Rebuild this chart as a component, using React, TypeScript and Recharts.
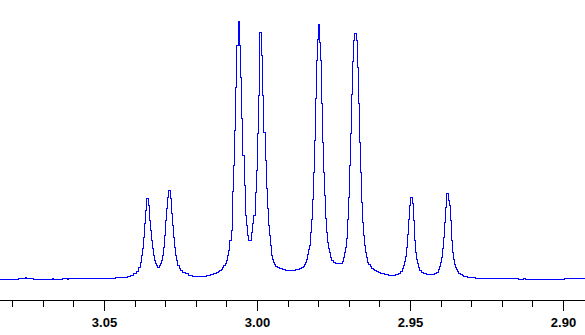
import { LineChart, Line, XAxis, YAxis } from 'recharts';

// chemical shift (ppm) of each step of the trace
const shifts = [
  // flat baseline, left
  3.0840, 3.0781, 3.0758, 3.0755, 3.0732, 3.0670, 3.0667, 3.0637, 3.0621, 3.0618, 3.0464, 3.0425, 3.0415,
  // first small line
  3.0404, 3.0396, 3.0388, 3.0382, 3.0378, 3.0375, 3.0372, 3.0368, 3.0365, 3.0362,
  3.0357, 3.0354, 3.0351, 3.0348, 3.0344, 3.0341, 3.0338, 3.0334, 3.0331, 3.0328,
  // second small line
  3.0319, 3.0316, 3.0313, 3.0310, 3.0306, 3.0303, 3.0300, 3.0297, 3.0293, 3.0290,
  3.0284, 3.0281, 3.0278, 3.0275, 3.0271, 3.0268, 3.0265, 3.0261, 3.0256, 3.0252, 3.0245, 3.0235, 3.0225, 3.0214,
  // valley
  3.0167, 3.0154, 3.0144, 3.0134, 3.0128, 3.0123, 3.0119, 3.0115, 3.0110, 3.0105,
  // big pair, left
  3.0101, 3.0098, 3.0094, 3.0091, 3.0086, 3.0083, 3.0081, 3.0078, 3.0075, 3.0071, 3.0068, 3.0063,
  3.0058, 3.0055, 3.0051, 3.0048, 3.0044, 3.0040, 3.0037, 3.0034, 3.0031, 3.0029,
  3.0019, 3.0015, 3.0012, 3.0008, 3.0004, 3.0001, 2.9997, 2.9995, 2.9993,
  2.9986, 2.9983, 2.9980, 2.9975, 2.9972, 2.9968, 2.9965, 2.9962, 2.9959, 2.9955,
  // valley
  2.9952, 2.9949, 2.9945, 2.9940, 2.9935, 2.9928, 2.9918, 2.9909, 2.9876, 2.9863, 2.9856, 2.9850, 2.9845, 2.9843,
  // big pair, right
  2.9840, 2.9837, 2.9833, 2.9830, 2.9827, 2.9825, 2.9821, 2.9818, 2.9815, 2.9812, 2.9807, 2.9804, 2.9801,
  2.9797, 2.9793, 2.9790, 2.9787, 2.9783, 2.9780, 2.9777, 2.9774, 2.9770, 2.9767, 2.9764, 2.9761, 2.9757, 2.9753, 2.9746,
  2.9721, 2.9718, 2.9715, 2.9712, 2.9708, 2.9705, 2.9702, 2.9698, 2.9695, 2.9692, 2.9689, 2.9685, 2.9682,
  2.9677, 2.9673, 2.9670, 2.9667, 2.9664, 2.9660, 2.9657, 2.9654, 2.9650, 2.9647, 2.9644, 2.9641, 2.9637,
  // valley
  2.9631, 2.9626, 2.9621, 2.9616, 2.9611, 2.9605, 2.9597, 2.9585, 2.9572, 2.9549, 2.9538,
  // small pair, right
  2.9533, 2.9527, 2.9524, 2.9521, 2.9517, 2.9514, 2.9511, 2.9508, 2.9504, 2.9501,
  2.9495, 2.9491, 2.9488, 2.9485, 2.9481, 2.9478, 2.9475, 2.9471, 2.9465, 2.9459, 2.9448,
  2.9422, 2.9415, 2.9410, 2.9405, 2.9402, 2.9399, 2.9396, 2.9392, 2.9389, 2.9386, 2.9382,
  2.9376, 2.9373, 2.9369, 2.9366, 2.9363, 2.9360, 2.9355, 2.9352, 2.9349, 2.9346, 2.9342, 2.9337, 2.9330, 2.9327, 2.9314, 2.9288,
  // flat baseline, right
  2.9147, 2.9131, 2.9124, 2.8997, 2.8928,
];

// intensity after each step (arbitrary units, baseline = 0)
const intensity = [
  0, 1, 2, 1, 0, 1, 0, 1, 0, 1, 2, 3, 4,
  6, 8, 12, 17, 24, 31, 42, 56, 69, 81,
  74, 59, 49, 39, 31, 24, 19, 16, 14, 12,
  14, 16, 19, 24, 32, 44, 59, 71, 82, 89,
  81, 66, 54, 42, 32, 24, 19, 14, 11, 9, 7, 6, 4, 3,
  4, 5, 6, 7, 8, 9, 10, 12, 14, 16,
  19, 24, 29, 39, 49, 64, 88, 114, 149, 192, 234, 258,
  234, 202, 161, 124, 94, 64, 54, 44, 40, 39,
  47, 56, 64, 87, 109, 146, 184, 202, 247,
  224, 184, 147, 119, 91, 71, 54, 44, 34, 24,
  20, 17, 15, 13, 12, 11, 10, 9, 10, 11, 12, 13, 15, 17,
  20, 25, 30, 34, 47, 60, 80, 107, 139, 181, 219, 240, 255,
  237, 219, 176, 137, 107, 84, 61, 47, 37, 31, 27, 22, 19, 17, 16,
  18, 22, 27, 32, 41, 60, 82, 114, 146, 185, 218, 239, 246,
  239, 212, 176, 137, 107, 77, 57, 44, 34, 27, 22, 17, 15,
  13, 11, 10, 9, 8, 7, 6, 5, 4, 5, 6,
  8, 11, 14, 18, 23, 32, 45, 60, 74, 82,
  76, 59, 39, 27, 20, 16, 12, 9, 7, 6, 5,
  6, 7, 10, 13, 17, 22, 31, 42, 57, 72, 86,
  79, 74, 59, 39, 27, 20, 15, 12, 10, 8, 6, 5, 4, 3, 2, 1,
  0, 1, 0, 1, 1,
];

const tickShifts = [
  3.08, 3.07, 3.06, 3.05, 3.04, 3.03, 3.02, 3.01, 3.0, 2.99,
  2.98, 2.97, 2.96, 2.95, 2.94, 2.93, 2.92, 2.91, 2.9,
];
const labelledShifts = ['3.05', '3.00', '2.95', '2.90'];

const spectrum = shifts.map((ppm, i) => ({ ppm, intensity: intensity[i] }));

function ShiftTick({ x, y, payload }: any) {
  const label = Number(payload.value).toFixed(2);
  const major = labelledShifts.includes(label);
  const px = Math.floor(x) + 0.5;
  return (
    <g>
      <line
        x1={px}
        x2={px}
        y1={y}
        y2={y + (major ? 10 : 6)}
        stroke="#000"
        strokeWidth={1}
        shapeRendering="crispEdges"
      />
      {major && (
        <text
          x={x}
          y={y + 26.5}
          textAnchor="middle"
          fontFamily="'Liberation Sans', Arial, sans-serif"
          fontSize={13}
          fontWeight="bold"
          fill="#000"
        >
          {label}
        </text>
      )}
    </g>
  );
}

export default function App() {
  return (
    <div style={{ position: 'absolute', left: 0, top: 0, width: 585, height: 335, background: '#fff' }}>
      <LineChart width={585} height={335} data={spectrum} margin={{ top: 0.5, right: 0, bottom: 0, left: 0 }}>
        <XAxis
          type="number"
          dataKey="ppm"
          domain={[2.89297, 3.08415]}
          reversed
          allowDataOverflow
          ticks={tickShifts}
          interval={0}
          tick={(props: any) => <ShiftTick {...props} />}
          tickLine={false}
          tickSize={0}
          tickMargin={0}
          axisLine={{ stroke: '#000', shapeRendering: 'crispEdges' }}
          height={34.5}
        />
        <YAxis hide domain={[-21, 279]} allowDataOverflow />
        <Line
          type="stepAfter"
          dataKey="intensity"
          stroke="#0000ff"
          strokeWidth={1}
          shapeRendering="crispEdges"
          dot={false}
          isAnimationActive={false}
        />
      </LineChart>
    </div>
  );
}
